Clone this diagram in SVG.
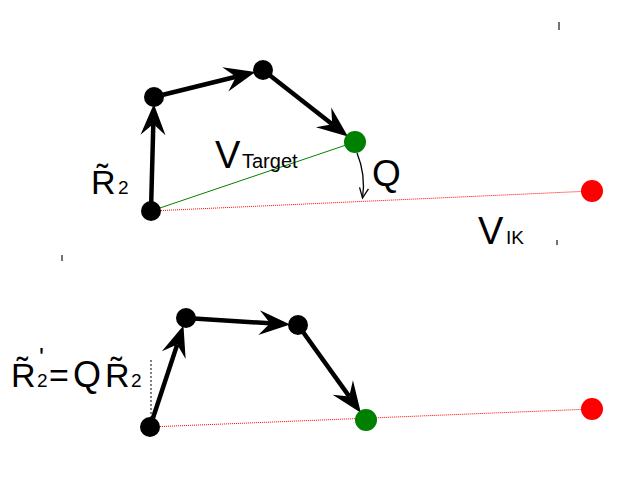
<svg xmlns="http://www.w3.org/2000/svg" width="640" height="480" viewBox="0 0 640 480">
<defs>
<style>
.arrow{stroke:#000;stroke-width:4.5;fill:none;marker-end:url(#head)}
.node{fill:#000}
.green{fill:#008000}
.red{fill:#ff0000}
.vt{stroke:#008000;stroke-width:1;fill:none}
.vik{stroke:#ff0000;stroke-width:1;stroke-dasharray:1 1;fill:none}
.t{font-family:"Liberation Sans",Arial,"DejaVu Sans",sans-serif;fill:#000}
.tick{stroke:#444;stroke-width:1.5}
</style>
<marker id="head" markerUnits="userSpaceOnUse" viewBox="-33 -15 35 30" markerWidth="35" markerHeight="30" refX="-20" refY="0" orient="auto">
<path d="M0,0 L-31,-12.5 L-20,0 L-31,12.5 Z" fill="#000"/>
</marker>
<marker id="open" markerUnits="userSpaceOnUse" viewBox="-11 -6 13 12" markerWidth="13" markerHeight="12" refX="0" refY="0" orient="auto">
<path d="M-10,-4.5 L0,0 L-10,4.5" fill="none" stroke="#000" stroke-width="1.3"/>
</marker>
</defs>
<rect width="640" height="480" fill="#fff"/>
<g id="ticks">
<line class="tick" x1="559" y1="22" x2="559" y2="30"/>
<line class="tick" x1="62" y1="255" x2="62" y2="261"/>
<line class="tick" x1="557" y1="240" x2="557" y2="245"/>
</g>
<g id="connectors">
<path class="vik" d="M151,211 L592,191"/>
<path class="vt" d="M151,211 L355,142"/>
<path class="arrow" d="M151,211 L153.3,124"/>
<path class="arrow" d="M154,97 L236,76.7"/>
<path class="arrow" d="M263,70 L332.2,124.2"/>
<path d="M357,153 Q366,175 362.5,198" fill="none" stroke="#000" stroke-width="1.3" marker-end="url(#open)"/>
<path class="vik" d="M150,427 L592,409"/>
<path d="M151,360 L151,418" fill="none" stroke="#000" stroke-width="1" stroke-dasharray="2 2"/>
<path class="arrow" d="M150,427 L177.2,344.6"/>
<path class="arrow" d="M186,318 L270.1,323.3"/>
<path class="arrow" d="M298,325 L349.2,396.4"/>
</g>
<g id="top-base"><circle class="node" cx="151" cy="211" r="10"/></g>
<g id="top-n2"><circle class="node" cx="154" cy="97" r="10"/></g>
<g id="top-n3"><circle class="node" cx="263" cy="70" r="10"/></g>
<g id="top-target"><circle class="green" cx="355" cy="142" r="11"/></g>
<g id="top-ik"><circle class="red" cx="592" cy="191" r="11"/></g>
<g id="bot-base"><circle class="node" cx="150" cy="427" r="10"/></g>
<g id="bot-n2"><circle class="node" cx="186" cy="318" r="10"/></g>
<g id="bot-n3"><circle class="node" cx="298" cy="325" r="10"/></g>
<g id="bot-target"><circle class="green" cx="366" cy="420" r="11"/></g>
<g id="bot-ik"><circle class="red" cx="592" cy="409" r="11"/></g>
<g id="labels">
<text class="t" font-size="34"><tspan x="91" y="194">R&#x303;</tspan><tspan x="118" y="194" font-size="19">2</tspan></text>
<text class="t" font-size="38"><tspan x="215" y="168">V</tspan><tspan x="242" y="168" font-size="20">Target</tspan></text>
<text class="t" x="372" y="186" font-size="37">Q</text>
<text class="t" font-size="38"><tspan x="478" y="244">V</tspan><tspan x="506" y="244" font-size="19">IK</tspan></text>
<text class="t" font-size="34"><tspan x="11" y="387">R&#x303;</tspan><tspan x="39" y="366" font-size="26">'</tspan><tspan x="37" y="387" font-size="19">2</tspan><tspan x="49" y="387">=</tspan><tspan x="73" y="387" font-size="36">Q</tspan><tspan x="105" y="387">R&#x303;</tspan><tspan x="131" y="387" font-size="19">2</tspan></text>
</g>
</svg>
